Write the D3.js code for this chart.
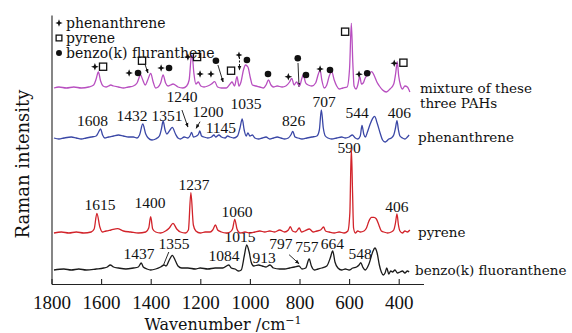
<!DOCTYPE html>
<html>
<head>
<meta charset="utf-8">
<script src="https://cdn.jsdelivr.net/npm/d3@7"></script>
<style>
  body { margin: 0; background: #fff; }
  svg { display: block; }
  .num { font-family: 'Liberation Serif', serif; fill: #111; }
  .word { font-family: 'DejaVu Serif', serif; fill: #111; }
</style>
</head>
<body>
<svg id="chart" width="572" height="333"></svg>
<script>
// tick labels of the wavenumber axis
const wavenumberTicks = [1800, 1600, 1400, 1200, 1000, 800, 600, 400];

// spectra: [wavenumber, intensity above its own baseline]
const benzo = [
  [1790, 0], [1750, 1], [1720, 0], [1690, 1], [1660, 0], [1620, 1], [1590, 2], [1575, 3], [1563, 5],
  [1550, 3], [1530, 2], [1500, 1], [1470, 2], [1450, 3], [1438, 7], [1430, 3], [1415, 1], [1400, 0],
  [1380, 1], [1360, 3], [1346, 5], [1338, 4], [1325, 10], [1313, 14.7], [1300, 9], [1290, 4], [1275, 2],
  [1250, 2], [1220, 1], [1200, 2], [1170, 1], [1140, 2], [1110, 2], [1085, 5], [1075, 2], [1060, 1],
  [1045, -1], [1035, 0], [1022, 15], [1013, 25], [1003, 18], [995, 8], [985, 4], [965, 5], [950, 4],
  [935, 3], [919, 5], [905, 2], [880, 1], [860, 1], [840, 2], [820, 3], [802, 4], [790, 1], [775, 2],
  [761, 11], [752, 4], [740, 0], [725, 1], [710, 2], [690, 4], [676, 12], [666, 19], [657, 8], [645, 2],
  [630, 0], [615, 1], [600, 0], [585, 2], [570, 3], [560, 5], [553, 7.3], [545, 3], [535, 0], [520, 6],
  [505, 18], [496, 22], [487, 17], [478, 5], [470, -2], [462, -5], [455, -3], [448, 2], [440, -4],
  [432, -1], [425, -2], [415, 0], [405, -3], [395, -2], [385, -1], [375, -3], [365, -1], [358, -2]
];
const pyrene = [
  [1790, 0], [1760, 1], [1730, 0], [1700, 1], [1670, 0], [1640, 1], [1628, 4], [1617, 19.7], [1605, 6],
  [1595, 1], [1580, 2], [1560, 3], [1534, 4.3], [1510, 2], [1480, 1], [1450, 0], [1420, 1], [1408, 5],
  [1400, 16.3], [1392, 4], [1380, 1], [1360, 0], [1340, 2], [1325, 5], [1310, 9.7], [1295, 4], [1280, 1],
  [1260, 0], [1248, 3], [1238, 40.3], [1228, 8], [1218, 2], [1200, 0], [1180, 1], [1160, 1], [1150, 3],
  [1139, 8], [1130, 3], [1115, 1], [1095, 0], [1080, 1], [1070, 4], [1061, 13.7], [1052, 4], [1040, 0],
  [1020, 1], [1000, 0], [980, 1], [960, 2], [940, 1], [920, 2], [900, 1], [880, 3], [860, 1], [845, 3],
  [837, 6.3], [828, 2], [815, 1], [801, 5], [792, 1], [780, 2], [760, 4], [745, 1], [730, 2], [715, 3],
  [703, 6], [695, 2], [680, 1], [660, 0], [640, 1], [620, 0], [605, 2], [597, 20], [591, 84.7], [586, 40],
  [582, 5], [575, 0], [565, 2], [555, 1], [540, 2], [530, 5], [520, 12], [510, 15.7], [500, 15.7],
  [490, 14], [480, 8], [470, 2], [460, 1], [445, 0], [430, 1], [420, 3], [413, 10], [407, 19], [401, 8],
  [395, 2], [385, 0], [375, 2], [365, 1], [355, 3]
];
const phenanthrene = [
  [1790, 0], [1770, -1], [1750, 0], [1720, 1], [1700, 0], [1680, -1], [1660, 0], [1640, 1], [1620, 2],
  [1612, 5], [1602, 9], [1594, 3], [1585, 0], [1570, 1], [1550, 2], [1530, 3], [1510, 2], [1490, 1],
  [1470, 1], [1455, 0], [1445, 3], [1432, 14], [1420, 4], [1410, 0], [1395, -2], [1380, -1], [1365, 2],
  [1356, 10], [1350, 17], [1342, 8], [1335, 4], [1322, 8], [1313, 10.6], [1300, 4], [1290, 0], [1280, -1],
  [1265, 1], [1250, 0], [1242, 2], [1235, 5.6], [1228, 1], [1215, 2], [1207, 4], [1202, 7], [1195, 2],
  [1185, 1], [1170, 0], [1155, 1], [1145, 3], [1138, 1], [1125, 3], [1115, 1], [1100, 0], [1090, 2],
  [1080, 1], [1065, 0], [1050, 2], [1040, 10], [1031, 19], [1023, 8], [1015, 2], [1008, 5], [1000, 2],
  [990, 3], [980, 0], [965, -1], [950, 0], [935, 1], [920, -1], [905, 0], [890, 1], [875, 0], [860, -1],
  [845, 0], [835, 3], [827, 6.6], [818, 1], [805, 0], [790, -1], [770, 0], [750, 1], [730, 2], [720, 8],
  [712, 28], [704, 10], [696, 2], [685, 0], [670, -1], [650, 0], [630, 1], [615, 0], [600, 1], [587, 3],
  [575, 0], [565, -1], [555, 2], [548, 12.6], [541, 4], [534, 1], [526, 6], [515, 14], [505, 19.6],
  [497, 21.6], [487, 15], [475, 5], [465, -2], [455, -4], [448, -3], [440, -1], [430, 0], [420, 3],
  [413, 10], [407, 17.3], [401, 8], [395, 2], [385, 0], [375, -1], [365, 1], [358, 3]
];
const mixture = [
  [1790, 0], [1770, 1], [1740, 0], [1710, 1], [1680, 0], [1650, 1], [1630, 3], [1620, 9], [1611, 16],
  [1602, 7], [1592, 2], [1580, 1], [1570, 2], [1561, 3], [1550, 2], [1530, 1], [1510, 0], [1490, 1],
  [1470, 2], [1455, 5], [1441, 13], [1432, 8], [1422, 3], [1412, 8], [1400, 14.7], [1390, 6], [1380, 0],
  [1370, 1], [1360, 5], [1350, 13], [1340, 5], [1330, 2], [1320, 3], [1310, 4], [1290, 1], [1270, 0],
  [1255, 2], [1245, 8], [1237, 30], [1233, 33], [1226, 15], [1218, 4], [1208, 6], [1198, 2], [1185, 1],
  [1170, 2], [1155, 4], [1142, 6.3], [1130, 1], [1115, 0], [1095, 0], [1080, 4], [1072, 6], [1062, 2],
  [1052, 11.3], [1044, 2], [1036, 6], [1026, 18], [1018, 23], [1008, 21], [998, 10], [990, 3], [975, 2],
  [960, 1], [945, 0], [935, 3], [925, 8], [915, 3], [905, 1], [890, 2], [870, 1], [855, 2], [840, 6],
  [831, 9.7], [822, 3], [812, 6], [800, 2], [790, 10], [785, 13], [775, 5], [765, 3], [750, 2], [735, 5],
  [724, 14], [717, 18], [710, 8], [700, 0], [690, 3], [680, 12], [670, 16.3], [660, 8], [650, 2],
  [640, -1], [625, 0], [608, 1], [598, 20], [591, 64.7], [585, 25], [580, 2], [572, -1], [565, 3],
  [557, 11.3], [550, 4], [543, 5], [535, 10], [520, 14], [509, 16.3], [498, 12], [488, 6], [478, 2],
  [465, -2], [450, -4], [435, -1], [420, 4], [412, 15], [406, 26.3], [400, 12], [393, 3], [385, -1],
  [375, 2], [365, 1], [355, -4]
];

// peak labels: [text, wavenumber of label centre, height above baseline]
const phenLabels = [
  ['1608', 1635, 12], ['1432', 1475, 17], ['1351', 1334, 17], ['1240', 1274, 36], ['1200', 1169, 21],
  ['1145', 1117, 5], ['1035', 1016, 29], ['826', 824, 12.3], ['707', 701, 31.5], ['544', 568, 20], ['406', 397, 20]
];
const pyreneLabels = [
  ['1615', 1604, 23], ['1400', 1403, 25], ['1237', 1225, 43], ['1060', 1052, 16.3], ['590', 600, 80.3], ['406', 407, 21.3]
];
const benzoLabels = [
  ['1437', 1447, 11.3], ['1355', 1306, 20.7], ['1084', 1104, 8.7], ['1015', 1040, 28], ['913', 943, 7.3],
  ['797', 875, 21.3], ['757', 770, 18], ['664', 667, 21.3], ['548', 556, 11.3]
];

// pointer lines: [w1, v1, w2, v2, head]
const phenArrows = [[1274, 28, 1250, 11, true], [1201, 16.3, 1217, 9.7, true]];
const benzoArrows = [[1327, 18, 1348, 5.3, false], [842, 15.3, 802, 6.3, true]];
const mixtureArrows = [[1422, 23, 1411, 15, true], [1129, 23, 1108, 6, true], [806, 25, 802, 1.3, true]];

// component markers over the mixture: [kind, wavenumber, height]
const mixtureMarks = [
  ['star', 1625, 21.3], ['square', 1592, 21.3], ['star', 1487, 15], ['dot', 1451, 15], ['square', 1435, 27.3],
  ['star', 1358, 20], ['dot', 1326, 20], ['star', 1250, 31], ['square', 1213, 31], ['star', 1201, 14],
  ['star', 1157, 14], ['dot', 1137, 27.3], ['square', 1076, 17.3], ['star', 1044, 33], ['dot', 1012, 28],
  ['dot', 927, 14], ['star', 845, 11.3], ['dot', 807, 29.7], ['dot', 774, 13], ['star', 717, 19],
  ['dot', 677, 18], ['square', 616, 56.3], ['star', 560, 13.7], ['dot', 527, 14.7], ['star', 418, 24.7],
  ['square', 381, 25.3]
];

const series = [
  { name: 'benzo', data: benzo, base: 14, color: '#1a1a1a', labels: benzoLabels, arrows: benzoArrows },
  { name: 'pyrene', data: pyrene, base: 51, color: '#d2232a', labels: pyreneLabels, arrows: [] },
  { name: 'phen', data: phenanthrene, base: 146, color: '#3a47a6', labels: phenLabels, arrows: phenArrows },
  { name: 'mix', data: mixture, base: 196, color: '#b84fc0', labels: [], arrows: mixtureArrows }
];

const svg = d3.select('#chart');
const x = d3.scaleLinear().domain([1800, 300]).range([51.5, 423.5]);
const y = d3.scaleLinear().domain([0, 269]).range([284, 15]);

svg.append('defs').append('marker')
  .attr('id', 'head')
  .attr('viewBox', '0 0 10 10')
  .attr('refX', 9).attr('refY', 5)
  .attr('markerWidth', 5).attr('markerHeight', 5)
  .attr('orient', 'auto')
  .append('path')
  .attr('d', 'M0,1L10,5L0,9z')
  .attr('fill', '#111');

// four pointed star
const star = {
  draw(ctx, size) {
    const r = Math.sqrt(size) * 0.75, k = r * 0.28;
    ctx.moveTo(0, -r);
    ctx.lineTo(k, -k); ctx.lineTo(r, 0); ctx.lineTo(k, k); ctx.lineTo(0, r);
    ctx.lineTo(-k, k); ctx.lineTo(-r, 0); ctx.lineTo(-k, -k);
    ctx.closePath();
  }
};

function drawMark(g, kind, cx, cy, s) {
  if (kind === 'star') {
    g.append('path').attr('d', d3.symbol(star, 26 * s)()).attr('transform', `translate(${cx},${cy})`).attr('fill', '#111');
  } else if (kind === 'square') {
    const h = 3.6 * s;
    g.append('rect').attr('x', cx - h).attr('y', cy - h).attr('width', 2 * h).attr('height', 2 * h)
      .attr('fill', '#fff').attr('stroke', '#111').attr('stroke-width', 1.3);
  } else {
    g.append('circle').attr('cx', cx).attr('cy', cy).attr('r', 3.3 * s).attr('fill', '#111');
  }
}

// axes
svg.append('g')
  .attr('transform', 'translate(0,284)')
  .call(d3.axisBottom(x).tickValues(wavenumberTicks).tickSizeInner(-5).tickSizeOuter(0).tickPadding(12).tickFormat(d3.format('d')))
  .call(g => g.selectAll('text').attr('class', 'num').style('font-size', '19px').attr('font-family', null))
  .call(g => g.selectAll('line, path').attr('stroke', '#222').attr('stroke-width', 1.1));
svg.append('g')
  .attr('transform', 'translate(51.5,0)')
  .call(d3.axisLeft(y).ticks(0).tickSizeOuter(0))
  .call(g => g.select('path').attr('stroke', '#222').attr('stroke-width', 1.1));

const xt = svg.append('text').attr('class', 'word').attr('x', 223).attr('y', 330)
  .attr('text-anchor', 'middle').style('font-size', '16px');
xt.append('tspan').text('Wavenumber /cm');
xt.append('tspan').attr('dy', -6).style('font-size', '11px').text('\u22121');

svg.append('text').attr('class', 'word').attr('transform', 'translate(29,164) rotate(-90)')
  .attr('text-anchor', 'middle').style('font-size', '18px').text('Raman intensity');

// peak labels and pointers first, traces on top
const line = d3.line().curve(d3.curveMonotoneX);
series.forEach(s => {
  const g = svg.append('g');
  g.selectAll('text').data(s.labels).join('text')
    .attr('class', 'num').style('font-size', '15.5px').attr('text-anchor', 'middle')
    .attr('x', d => x(d[1])).attr('y', d => y(s.base + d[2])).text(d => d[0]);
  s.arrows.forEach(a => {
    g.append('line')
      .attr('x1', x(a[0])).attr('y1', y(s.base + a[1]))
      .attr('x2', x(a[2])).attr('y2', y(s.base + a[3]))
      .attr('stroke', '#111').attr('stroke-width', 0.9)
      .attr('marker-end', a[4] ? 'url(#head)' : null);
  });
});

series.forEach(s => {
  svg.append('path')
    .attr('d', line(s.data.map(d => [x(d[0]), y(s.base + d[1])])))
    .attr('fill', 'none').attr('stroke', s.color).attr('stroke-width', 1.3)
    .attr('stroke-linejoin', 'round');
});

// dashed pointer under the small star near 1040
const mixBase = 196;
svg.append('line')
  .attr('x1', x(1042)).attr('y1', y(mixBase + 31))
  .attr('x2', x(1042)).attr('y2', y(mixBase + 18))
  .attr('stroke', '#111').attr('stroke-width', 1).attr('stroke-dasharray', '2,1.5')
  .attr('marker-end', 'url(#head)');

const mg = svg.append('g');
mixtureMarks.forEach(m => drawMark(mg, m[0], x(m[1]), y(mixBase + m[2]), m[1] === 1044 ? 0.8 : 1));

// legend
const legend = [['star', 'phenanthrene'], ['square', 'pyrene'], ['dot', 'benzo(k) fluranthene']];
const lg = svg.append('g');
legend.forEach((l, i) => {
  const ly = 23 + i * 15;
  drawMark(lg, l[0], 59, ly, l[0] === 'square' ? 0.8 : 0.9);
  lg.append('text').attr('class', 'word').style('font-size', '14px')
    .attr('x', 66).attr('y', ly + 4.5).text(l[1]);
});

// series names on the right
const names = [
  ['mixture of these', 420, 93], ['three PAHs', 420, 108], ['phenanthrene', 418, 142],
  ['pyrene', 418, 237], ['benzo(k) fluoranthene', 415, 275]
];
svg.append('g').selectAll('text').data(names).join('text')
  .attr('class', 'word').style('font-size', '13.5px')
  .attr('x', d => d[1]).attr('y', d => d[2]).text(d => d[0]);
</script>
</body>
</html>
